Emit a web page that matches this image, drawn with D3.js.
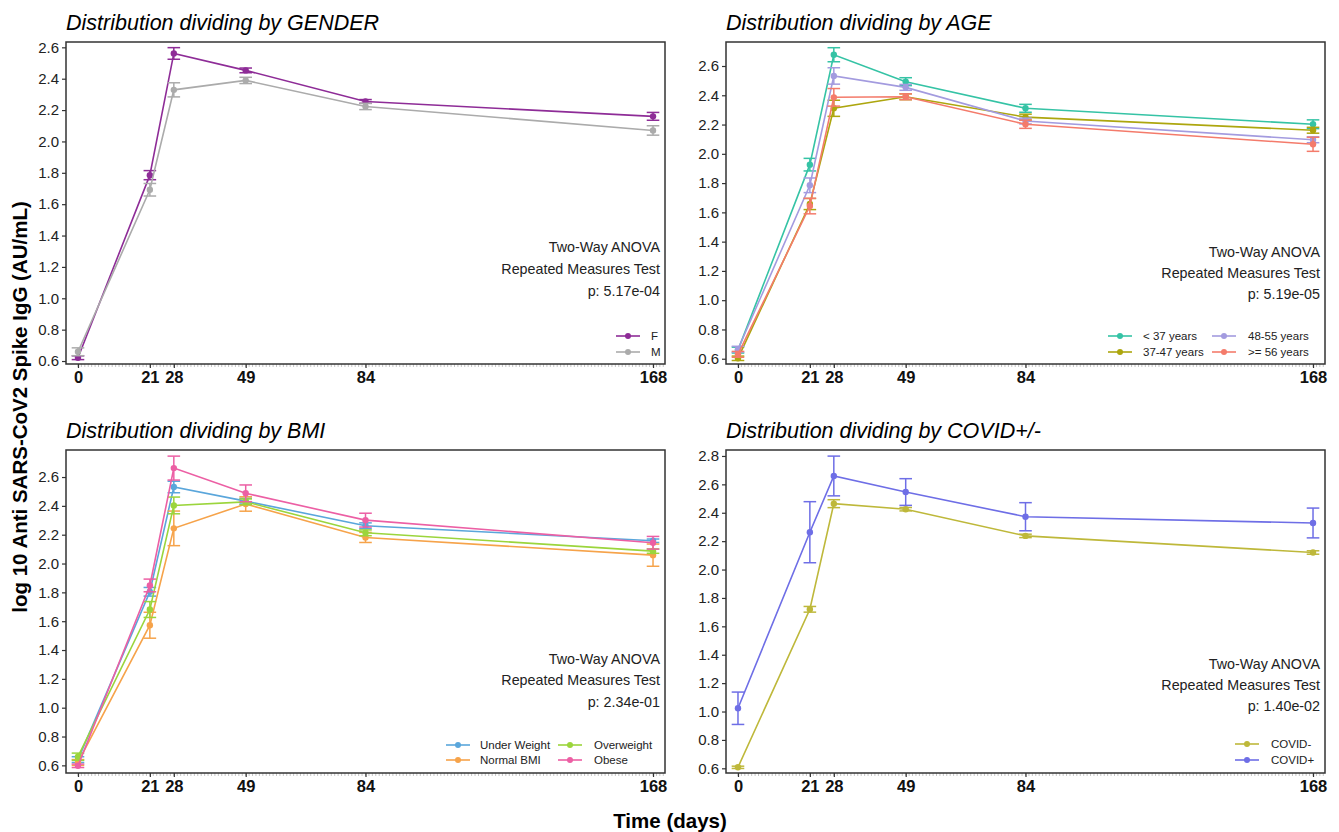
<!DOCTYPE html>
<html><head><meta charset="utf-8">
<script src="https://cdn.jsdelivr.net/npm/d3@7"></script>
<style>
body{margin:0;background:#fff;}
text{font-family:"Liberation Sans",Arial,sans-serif;}
</style></head>
<body><svg id="c" width="1339" height="832"></svg>
<script>
const days = [0, 21, 28, 49, 84, 168];
const yTicksA = [0.6, 0.8, 1.0, 1.2, 1.4, 1.6, 1.8, 2.0, 2.2, 2.4, 2.6];
const yTicksB = [0.6, 0.8, 1.0, 1.2, 1.4, 1.6, 1.8, 2.0, 2.2, 2.4, 2.6, 2.8];

const genderLabels = ["F", "M"];
const genderMeans = [
  [0.621, 1.785, 2.561, 2.453, 2.255, 2.160],
  [0.659, 1.692, 2.329, 2.389, 2.223, 2.070]
];
const genderErrors = [
  [0.012, 0.029, 0.037, 0.015, 0.012, 0.025],
  [0.025, 0.040, 0.045, 0.020, 0.020, 0.030]
];
const genderColors = ["#8E2C97", "#ABABAB"];

const ageLabels = ["< 37 years", "37-47 years", "48-55 years", ">= 56 years"];
const ageMeans = [
  [0.659, 1.926, 2.677, 2.493, 2.311, 2.202],
  [0.603, 1.657, 2.311, 2.390, 2.251, 2.161],
  [0.665, 1.785, 2.532, 2.454, 2.224, 2.096],
  [0.630, 1.643, 2.386, 2.390, 2.202, 2.065]
];
const ageErrors = [
  [0.020, 0.043, 0.048, 0.027, 0.027, 0.030],
  [0.015, 0.038, 0.055, 0.020, 0.020, 0.020],
  [0.020, 0.050, 0.056, 0.020, 0.020, 0.020],
  [0.020, 0.053, 0.060, 0.020, 0.028, 0.048]
];
const ageColors = ["#35C3A5", "#ADA60E", "#A39BDF", "#F47B6B"];

const bmiLabels = ["Under Weight", "Normal BMI", "Overweight", "Obese"];
const bmiMeans = [
  [0.640, 1.804, 2.531, 2.433, 2.262, 2.158],
  [0.620, 1.572, 2.244, 2.413, 2.181, 2.058],
  [0.660, 1.681, 2.403, 2.428, 2.213, 2.086],
  [0.597, 1.848, 2.662, 2.487, 2.301, 2.144]
];
const bmiErrors = [
  [0.020, 0.030, 0.040, 0.020, 0.020, 0.012],
  [0.020, 0.090, 0.120, 0.050, 0.035, 0.077],
  [0.025, 0.055, 0.058, 0.020, 0.020, 0.015],
  [0.012, 0.044, 0.083, 0.058, 0.048, 0.044]
];
const bmiColors = ["#5AA6DB", "#F6A34A", "#9BD53C", "#EC5FA4"];

const covidLabels = ["COVID-", "COVID+"];
const covidMeans = [
  [0.607, 1.720, 2.464, 2.425, 2.237, 2.120],
  [1.023, 2.263, 2.659, 2.546, 2.372, 2.328]
];
const covidErrors = [
  [0.008, 0.020, 0.028, 0.012, 0.012, 0.012],
  [0.114, 0.215, 0.140, 0.094, 0.099, 0.105]
];
const covidColors = ["#BEB83A", "#6E6EE6"];

const titles = ["Distribution dividing by GENDER", "Distribution dividing by AGE",
                "Distribution dividing by BMI", "Distribution dividing by COVID+/-"];
const statLines = ["Two-Way ANOVA", "Repeated Measures Test"];
const pValues = ["p: 5.17e-04", "p: 5.19e-05", "p: 2.34e-01", "p: 1.40e-02"];

const svg = d3.select("#c");

const panels = [
  {x0:66, x1:665, y0:42, y1:364, dom:[0.581, 2.634], ticks:yTicksA, labels:genderLabels, means:genderMeans, errs:genderErrors, colors:genderColors,
   title:titles[0], p:pValues[0], statY:[247, 269, 291], cols:1, legX:[616], legTx:[651], legY:[336, 352]},
  {x0:726, x1:1325, y0:42, y1:364, dom:[0.564, 2.764], ticks:yTicksA, labels:ageLabels, means:ageMeans, errs:ageErrors, colors:ageColors,
   title:titles[1], p:pValues[1], statY:[252, 273, 294], cols:2, legX:[1108, 1212], legTx:[1143, 1248], legY:[336, 352]},
  {x0:66, x1:665, y0:450, y1:773, dom:[0.547, 2.7875], ticks:yTicksA, labels:bmiLabels, means:bmiMeans, errs:bmiErrors, colors:bmiColors,
   title:titles[2], p:pValues[2], statY:[659, 680, 702], cols:2, legX:[446, 558], legTx:[480, 594], legY:[745, 760]},
  {x0:726, x1:1325, y0:450, y1:773, dom:[0.567, 2.842], ticks:yTicksB, labels:covidLabels, means:covidMeans, errs:covidErrors, colors:covidColors,
   title:titles[3], p:pValues[3], statY:[664, 685, 706], cols:1, legX:[1235], legTx:[1271], legY:[744, 760]}
];

panels.forEach(P => {
  const g = svg.append("g");
  const x = d3.scaleLinear().domain([-3.5, 171.5]).range([P.x0, P.x1]);
  const y = d3.scaleLinear().domain(P.dom).range([P.y1, P.y0]);

  // title
  g.append("text").attr("x", P.x0).attr("y", P.y0 - 12)
    .attr("font-size", 21.5).attr("font-style", "italic").attr("fill", "#000").text(P.title);

  // minor x ticks
  const minor = d3.range(0, 172, 1);
  g.append("g").selectAll("line").data(minor).join("line")
    .attr("x1", d => x(d)).attr("x2", d => x(d))
    .attr("y1", P.y1).attr("y2", P.y1 + 3)
    .attr("stroke", "#b5b5b5").attr("stroke-width", 0.8);

  // x axis
  const xa = g.append("g").attr("transform", `translate(0,${P.y1})`)
    .call(d3.axisBottom(x).tickValues(days).tickSize(4).tickPadding(3).tickFormat(d3.format("d")));
  xa.select(".domain").remove();
  xa.selectAll("line").attr("stroke", "#333").attr("stroke-width", 1.2);
  xa.selectAll("text").attr("font-size", 16.5).attr("font-weight", "bold").attr("fill", "#111")
    .attr("font-family", "Liberation Sans, Arial, sans-serif");

  // y axis
  const ya = g.append("g").attr("transform", `translate(${P.x0},0)`)
    .call(d3.axisLeft(y).tickValues(P.ticks).tickSize(4).tickPadding(3).tickFormat(d3.format(".1f")));
  ya.select(".domain").remove();
  ya.selectAll("line").attr("stroke", "#333").attr("stroke-width", 1.2);
  ya.selectAll("text").attr("font-size", 15).attr("fill", "#222")
    .attr("font-family", "Liberation Sans, Arial, sans-serif");

  // series
  const line = d3.line().x((d, i) => x(days[i])).y(d => y(d));
  P.means.forEach((m, s) => {
    const col = P.colors[s];
    const sg = g.append("g");
    sg.append("path").attr("d", line(m)).attr("fill", "none").attr("stroke", col).attr("stroke-width", 1.6);
    const eg = sg.append("g");
    m.forEach((v, i) => {
      const e = P.errs[s][i];
      const cx = x(days[i]);
      eg.append("line").attr("x1", cx).attr("x2", cx).attr("y1", y(v - e)).attr("y2", y(v + e))
        .attr("stroke", col).attr("stroke-width", 1.5);
      [v - e, v + e].forEach(t => {
        eg.append("line").attr("x1", cx - 6.3).attr("x2", cx + 6.3).attr("y1", y(t)).attr("y2", y(t))
          .attr("stroke", col).attr("stroke-width", 1.5);
      });
    });
    sg.selectAll("circle").data(m).join("circle")
      .attr("cx", (d, i) => x(days[i])).attr("cy", d => y(d)).attr("r", 3.2).attr("fill", col);
  });

  // border
  g.append("rect").attr("x", P.x0).attr("y", P.y0).attr("width", P.x1 - P.x0).attr("height", P.y1 - P.y0)
    .attr("fill", "none").attr("stroke", "#333").attr("stroke-width", 1.5);

  // stats text
  const st = [statLines[0], statLines[1], P.p];
  st.forEach((t, i) => {
    g.append("text").attr("x", P.x1 - 5).attr("y", P.statY[i] + 5).attr("text-anchor", "end")
      .attr("font-size", 14.3).attr("fill", "#222").text(t);
  });

  // legend
  P.labels.forEach((lab, i) => {
    const col = P.cols === 1 ? 0 : Math.floor(i / 2);
    const row = P.cols === 1 ? i : i % 2;
    const lx = P.legX[col], ly = P.legY[row];
    g.append("line").attr("x1", lx).attr("x2", lx + 24).attr("y1", ly).attr("y2", ly)
      .attr("stroke", P.colors[i]).attr("stroke-width", 1.6);
    g.append("circle").attr("cx", lx + 12).attr("cy", ly).attr("r", 3).attr("fill", P.colors[i]);
    g.append("text").attr("x", P.legTx[col]).attr("y", ly + 4).attr("font-size", 11.5).attr("fill", "#222").text(lab);
  });
});

// global axis labels
svg.append("text").attr("transform", "translate(27,407) rotate(-90)").attr("text-anchor", "middle")
  .attr("font-size", 20.5).attr("font-weight", "bold").attr("fill", "#000")
  .text("log 10 Anti SARS-CoV2 Spike IgG (AU/mL)");
svg.append("text").attr("x", 670).attr("y", 828).attr("text-anchor", "middle")
  .attr("font-size", 20.5).attr("font-weight", "bold").attr("fill", "#000").text("Time (days)");
</script></body></html>
